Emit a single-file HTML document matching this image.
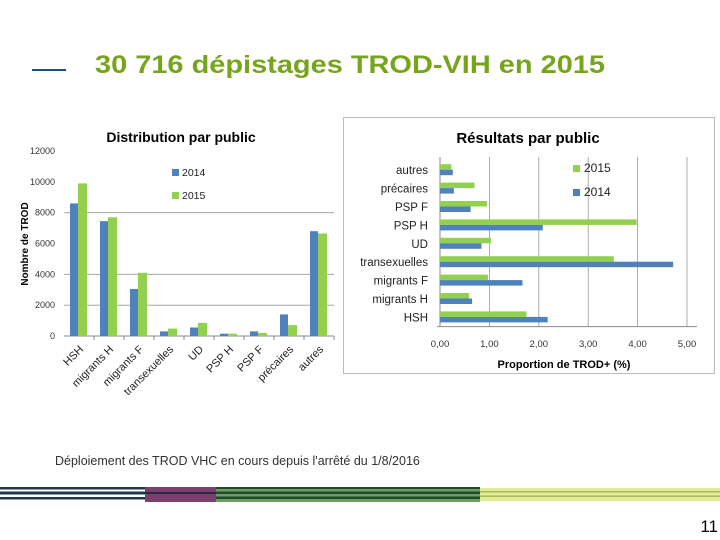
<!DOCTYPE html>
<html><head><meta charset="utf-8"><style>
body{margin:0;background:#fff;}
#page{position:relative;width:720px;height:540px;overflow:hidden;font-family:"Liberation Sans",sans-serif;}
</style></head><body>
<div id="page">
<svg width="720" height="540" style="position:absolute;left:0;top:0" font-family="Liberation Sans, sans-serif">
<line x1="32" y1="70" x2="66" y2="70" stroke="#1f4e79" stroke-width="2"/>
<text x="95" y="73" font-size="25" font-weight="bold" fill="#76a51c" textLength="510" lengthAdjust="spacingAndGlyphs">30 716 dépistages TROD-VIH en 2015</text>
<g id="left"></g>
<rect x="343.5" y="117.5" width="371" height="256" fill="none" stroke="#bbb"/>
<g id="right"></g>
<text x="55" y="465" font-size="12.5" fill="#333">Déploiement des TROD VHC en cours depuis l'arrêté du 1/8/2016</text>
<g>
<rect x="0" y="487" width="145" height="15" fill="#fff"/>
<rect x="0" y="487" width="145" height="2.5" fill="#1f3a4c"/><rect x="0" y="491.5" width="145" height="3" fill="#1f3a4c"/><rect x="0" y="497" width="145" height="2.5" fill="#1f3a4c"/>
<rect x="145" y="487" width="71" height="15" fill="#7a3f6e"/><rect x="145" y="492" width="71" height="2" fill="#2a2a40"/>
<rect x="216" y="487" width="264" height="15" fill="#6c9e5c"/>
<rect x="216" y="487" width="264" height="2" fill="#1e4a30"/><rect x="216" y="491.5" width="264" height="2.5" fill="#1e4a30"/><rect x="216" y="496.5" width="264" height="2.5" fill="#1e4a30"/>
<rect x="480" y="488" width="240" height="13" fill="#e1ec94"/>
<rect x="480" y="491" width="240" height="1.5" fill="#aab860"/><rect x="480" y="495.5" width="240" height="1.5" fill="#aab860"/>
</g>
<text x="718" y="532" font-size="17" fill="#000" text-anchor="end">11</text>
</svg>
</div>
<script>
const leftCats=["HSH","migrants H","migrants F","transexuelles","UD","PSP H","PSP F","précaires","autres"];
const left2014=[8600,7450,3050,300,550,150,300,1400,6800];
const left2015=[9900,7700,4100,480,850,150,200,700,6650];
const leftTicks=[0,2000,4000,6000,8000,10000,12000];
const leftGrid=[2000,4000,8000];
const rightCats=["autres","précaires","PSP F","PSP H","UD","transexuelles","migrants F","migrants H","HSH"];
const right2015=[0.23,0.70,0.95,3.98,1.03,3.52,0.97,0.59,1.75];
const right2014=[0.26,0.28,0.62,2.08,0.84,4.72,1.67,0.65,2.18];
const rightTicks=[0,1,2,3,4,5];
const BLUE="#4f81bd",GREEN="#92d050";
const NS="http://www.w3.org/2000/svg";
function mk(p,t,a){const e=document.createElementNS(NS,t);for(const k in a)e.setAttribute(k,a[k]);p.appendChild(e);return e;}
// left chart
const L=document.getElementById('left');
const lx0=64,lw=270,ly0=336,lh=185,lmax=12000;
const ly=v=>ly0-v/lmax*lh;
const band=lw/leftCats.length;
let t=mk(L,'text',{x:181,y:142,'font-size':14,'font-weight':'bold','text-anchor':'middle',fill:'#000'});t.textContent="Distribution par public";


leftGrid.forEach(v=>{const g=mk(L,'line',{x1:lx0,x2:lx0+lw,y1:ly(v),y2:ly(v),stroke:'#999','stroke-width':0.8});

});
leftTicks.forEach(v=>{const e=mk(L,'text',{x:55,y:ly(v)+3,'font-size':9,'text-anchor':'end',fill:'#333'});e.textContent=v;

});
const ax=mk(L,'line',{x1:lx0,x2:lx0+lw,y1:ly0,y2:ly0,stroke:'#888'});


leftCats.forEach((c,i)=>{
 const cx=lx0+band*i+band/2;
 const b1=mk(L,'rect',{x:cx-9,y:ly(left2014[i]),width:8,height:ly0-ly(left2014[i]),fill:BLUE});
 
 
 const b2=mk(L,'rect',{x:cx-1,y:ly(left2015[i]),width:9,height:ly0-ly(left2015[i]),fill:GREEN});
 
 
 const tk=mk(L,'line',{x1:lx0+band*(i+1),x2:lx0+band*(i+1),y1:ly0,y2:ly0+4,stroke:'#888'});
 
 
 const lb=mk(L,'text',{x:0,y:0,'font-size':11,'text-anchor':'end',fill:'#222',transform:`translate(${cx+5},${ly0+14}) rotate(-45)`});lb.textContent=c;
 
 
});
const yt=mk(L,'text',{x:0,y:0,'font-size':10,'font-weight':'bold','text-anchor':'middle',fill:'#000',transform:'translate(28,244) rotate(-90)'});yt.textContent="Nombre de TROD";


[["2014",BLUE,176],["2015",GREEN,199]].forEach(([n,c,y])=>{
 const r=mk(L,'rect',{x:172,y:y-7,width:7,height:7,fill:c});
 
 
 const tx=mk(L,'text',{x:182,y:y,'font-size':10.5,fill:'#222'});tx.textContent=n;
 
 
});
// right chart
const R=document.getElementById('right');
const rx0=440,rw=247,rmax=5,ry0=161,rband=18.4;
const rx=v=>rx0+v/rmax*rw;
t=mk(R,'text',{x:528,y:143,'font-size':15,'font-weight':'bold','text-anchor':'middle',fill:'#000'});t.textContent="Résultats par public";


rightTicks.forEach(v=>{
 if(v>0){const g=mk(R,'line',{x1:rx(v),x2:rx(v),y1:ry0-4,y2:ry0+rband*rightCats.length,stroke:'#999','stroke-width':0.8});
 
 }
 const e=mk(R,'text',{x:rx(v),y:347,'font-size':9.5,'text-anchor':'middle',fill:'#333'});e.textContent=v.toFixed(2).replace('.',',');
 
 
});
const ya=mk(R,'line',{x1:rx0,x2:rx0,y1:ry0-4,y2:ry0+rband*rightCats.length,stroke:'#888'});


const xa=mk(R,'line',{x1:rx0-3,x2:rx(5)+10,y1:ry0+rband*rightCats.length,y2:ry0+rband*rightCats.length,stroke:'#888'});


rightCats.forEach((c,i)=>{
 const cy=ry0+rband*i+rband/2;
 const g=mk(R,'rect',{x:rx0,y:cy-6,width:rx(right2015[i])-rx0,height:5.5,fill:GREEN});
 
 
 const b=mk(R,'rect',{x:rx0,y:cy-0.5,width:rx(right2014[i])-rx0,height:5.5,fill:BLUE});
 
 
 const lb=mk(R,'text',{x:428,y:cy+4,'font-size':11.5,'text-anchor':'end',fill:'#222'});lb.textContent=c;
 
 
});
const xt=mk(R,'text',{x:564,y:368,'font-size':11,'font-weight':'bold','text-anchor':'middle',fill:'#000'});xt.textContent="Proportion de TROD+ (%)";


[["2015",GREEN,172],["2014",BLUE,196]].forEach(([n,c,y])=>{
 const r=mk(R,'rect',{x:573,y:y-7,width:7,height:7,fill:c});
 
 
 const tx=mk(R,'text',{x:584,y:y,'font-size':12,fill:'#222'});tx.textContent=n;
 
 
});
</script>
</body></html>
